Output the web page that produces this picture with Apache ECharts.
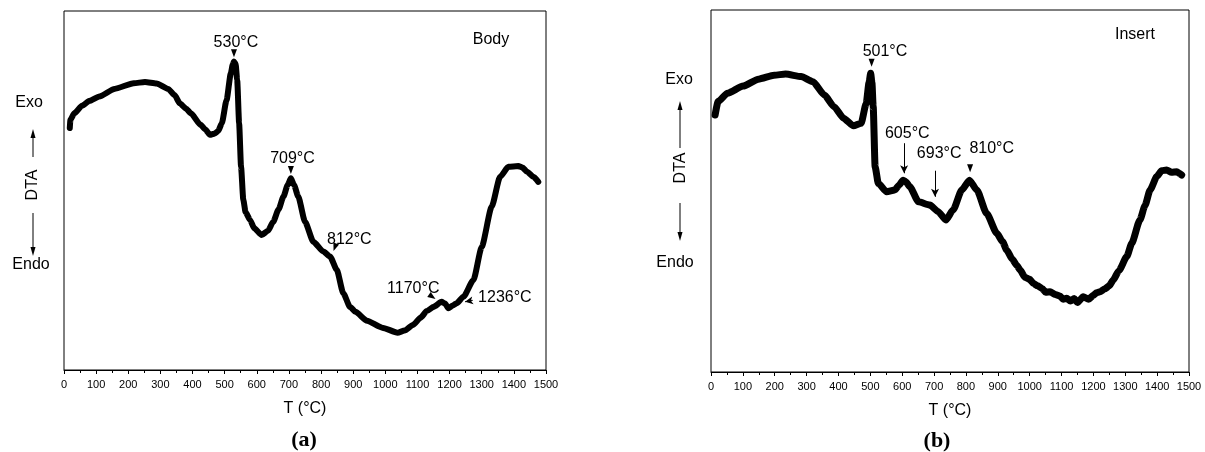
<!DOCTYPE html>
<html>
<head>
<meta charset="utf-8">
<script src="https://cdn.jsdelivr.net/npm/echarts@6/dist/echarts.min.js"></script>
<style>
html,body{margin:0;padding:0;background:#fff;}
#c{width:1205px;height:452px;}
</style>
</head>
<body>
<div id="c"></div>
<script>
// ---- Data ----
var xTicks = [0,100,200,300,400,500,600,700,800,900,1000,1100,1200,1300,1400,1500];

var bodyT = [18,20,32,56,80,110,157,217,252,288,324,345,360,380,395,425,440,454,470,480,491,506,519,525,529,534,539,545,551,558,565,579,592,615,635,651,668,683,696,706,716,729,750,776,807,828,849,869,890,907,943,990,1038,1060,1087,1110,1129,1150,1175,1186,1196,1210,1222,1243,1274,1300,1331,1357,1383,1414,1427,1440,1461,1476];
var bodyY = [67.4,69.7,71.5,73.6,75.0,76.2,78.3,79.9,80.2,79.8,78.3,76.5,74.3,72.8,71.5,68.3,67.0,65.5,65.9,66.6,68.7,75.2,82.6,85.0,85.9,85.3,80.8,68.7,56.6,47.4,44.0,41.8,39.5,37.6,38.8,41.3,44.8,48.3,51.5,53.4,51.5,48.3,41.3,35.7,33.0,31.6,27.9,21.4,17.6,16.2,13.7,11.8,10.4,11.0,12.6,14.6,16.4,17.6,19.0,18.5,17.2,18.0,18.6,20.4,25.0,34.3,45.5,53.8,56.6,56.8,56.4,55.3,53.8,52.4];

var insertT = [13,22,52,101,149,198,234,283,320,356,386,416,447,471,487,496,501,505,509,515,525,551,577,590,603,612,624,651,687,713,737,760,787,811,834,865,897,915,928,945,960,970,985,1000,1011,1025,1040,1050,1064,1080,1095,1105,1116,1128,1140,1150,1168,1185,1200,1210,1221,1235,1250,1262,1280,1305,1320,1346,1362,1378,1399,1414,1430,1445,1462,1470,1477];
var insertY = [71.0,74.7,77.0,79.0,80.9,82.0,82.3,81.6,80.2,76.5,73.3,70.1,68.0,68.7,74.2,80.0,82.5,80.0,73.3,56.7,52.1,49.8,50.3,51.6,53.0,52.5,51.2,47.0,46.1,44.3,42.0,44.8,50.3,53.0,50.3,43.8,38.3,36.0,33.7,31.2,29.4,28.2,26.2,25.6,24.5,23.8,23.0,22.0,22.2,21.4,21.0,20.1,20.4,19.6,20.3,19.2,20.8,20.1,21.2,21.9,22.2,22.9,23.8,25.4,28.0,31.9,35.5,42.0,46.0,50.3,54.0,55.6,55.8,55.2,55.3,54.8,54.4];

// annotation labels: [T, y, text]
var bodyLabels = [[535,91.2,'530°C'],[711,58.8,'709°C'],[888,36.4,'812°C'],[1087,22.7,'1170°C'],[1372,20.2,'1236°C']];
// triangle markers: [T, y, rotation]
var bodyTriangles = [[529,88.2,180],[706,55.7,180],[843,34.2,160],[1146,20.4,235]];
// arrow lines: [T1, y1, T2, y2]
var bodyArrows = [[1272,19.4,1248,19.0]];

var insertLabels = [[546,88.5,'501°C'],[616,65.9,'605°C'],[716,60.4,'693°C'],[881,61.8,'810°C']];
var insertTriangles = [[504,85.4,180],[813,56.3,180]];
var insertArrows = [[606,63.2,606,54.9],[703,55.6,703,48.4]];

// ---- Chart ----
var FONT = '"Liberation Sans", Arial, sans-serif';
function zip(a,b){ return a.map(function(v,i){ return [v,b[i]]; }); }

function xAxisDef(idx){
  return {
    gridIndex: idx, type:'value', min:xTicks[0], max:xTicks[xTicks.length-1], interval:xTicks[1]-xTicks[0],
    name:'T (°C)', nameLocation:'middle', nameGap:31,
    nameTextStyle:{fontFamily:FONT, fontSize:16, color:'#000'},
    axisLine:{show:true, lineStyle:{color:'#000', width:1}},
    axisTick:{show:true, length:4, lineStyle:{color:'#000'}},
    minorTick:{show:true, splitNumber:2, length:3, lineStyle:{color:'#000'}},
    axisLabel:{fontFamily:FONT, fontSize:11, color:'#000', margin:9,
      formatter:function(v){ return String(v); }},
    splitLine:{show:false}
  };
}
function yAxisDef(idx){
  return {
    gridIndex: idx, type:'value', min:0, max:100,
    axisLine:{show:false}, axisTick:{show:false},
    axisLabel:{show:false}, splitLine:{show:false}
  };
}
function curve(idx, T, Y, w){
  return {type:'line', xAxisIndex:idx, yAxisIndex:idx, data:zip(T,Y), showSymbol:false,
    smooth:0.2, smoothMonotone:'x', silent:true, z:3,
    lineStyle:{color:'#000', width:w, cap:'round', join:'round'}};
}
function labels(idx, L){
  return {type:'scatter', xAxisIndex:idx, yAxisIndex:idx, symbolSize:0, silent:true, z:5,
    itemStyle:{opacity:1, color:'#000'},
    data:L.map(function(d){ return {value:[d[0],d[1]], name:d[2]}; }),
    label:{show:true, position:'inside', formatter:function(p){return p.name;},
      fontFamily:FONT, fontSize:16, color:'#000', opacity:1, textBorderWidth:0}};
}
function triangles(idx, Tr){
  return {type:'scatter', xAxisIndex:idx, yAxisIndex:idx, symbol:'triangle', symbolSize:[6,8], silent:true, z:5,
    itemStyle:{color:'#000', opacity:1},
    data:Tr.map(function(d){ return {value:[d[0],d[1]], symbolRotate:d[2]}; })};
}
function arrows(idx, A){
  return {type:'line', xAxisIndex:idx, yAxisIndex:idx, data:[], silent:true,
    markLine:{silent:true, symbol:['none','arrow'], symbolSize:[6,8], label:{show:false},
      lineStyle:{color:'#000', width:1, type:'solid', opacity:1},
      data:A.map(function(a){ return [{coord:[a[0],a[1]]},{coord:[a[2],a[3]]}]; })}};
}

function arrowGraphics(x, upTip, upBase, downBase, downTip){
  return [
    {type:'line', shape:{x1:x,y1:upBase,x2:x,y2:upTip+4}, style:{stroke:'#000', lineWidth:1}},
    {type:'polygon', shape:{points:[[x,upTip],[x-2.5,upTip+9],[x+2.5,upTip+9]]}, style:{fill:'#000'}},
    {type:'line', shape:{x1:x,y1:downBase,x2:x,y2:downTip-4}, style:{stroke:'#000', lineWidth:1}},
    {type:'polygon', shape:{points:[[x,downTip],[x-2.5,downTip-9],[x+2.5,downTip-9]]}, style:{fill:'#000'}}
  ];
}
function txt(x,y,s,font){
  return {type:'text', style:{text:s, x:x, y:y, fill:'#000', font:font||('16px '+FONT), align:'center', verticalAlign:'middle'}};
}
function vtxt(x,y,s){
  return {type:'text', x:x, y:y, rotation:Math.PI/2, style:{text:s, x:0, y:0, fill:'#000', font:'16px '+FONT, align:'center', verticalAlign:'middle'}};
}

var SERIF = 'bold 22px "Liberation Serif", "Times New Roman", serif';
var graphics = [];
graphics.push(txt(29,103,'Exo'));
graphics.push(txt(31,265,'Endo'));
graphics.push(vtxt(33,185,'DTA'));
graphics = graphics.concat(arrowGraphics(33,129,157,213,256));
graphics.push(txt(491,40,'Body'));
graphics.push(txt(304,440,'(a)',SERIF));

graphics.push(txt(679,80,'Exo'));
graphics.push(txt(675,263,'Endo'));
graphics.push(vtxt(681,168,'DTA'));
graphics = graphics.concat(arrowGraphics(680,101,148,203,241));
graphics.push(txt(1135,35,'Insert'));
graphics.push(txt(937,441,'(b)',SERIF));

var chart = echarts.init(document.getElementById('c'), null, {renderer:'canvas'});
chart.setOption({
  animation:false,
  backgroundColor:'#fff',
  grid:[
    {left:64, top:11, width:482, height:359, show:true, borderColor:'#000', borderWidth:1, backgroundColor:'transparent'},
    {left:711, top:10, width:478, height:362, show:true, borderColor:'#000', borderWidth:1, backgroundColor:'transparent'}
  ],
  xAxis:[xAxisDef(0), xAxisDef(1)],
  yAxis:[yAxisDef(0), yAxisDef(1)],
  series:[
    curve(0, bodyT, bodyY, 6),
    curve(1, insertT, insertY, 7),
    labels(0, bodyLabels), labels(1, insertLabels),
    triangles(0, bodyTriangles), triangles(1, insertTriangles),
    arrows(0, bodyArrows), arrows(1, insertArrows)
  ],
  graphic:graphics
});
</script>
</body>
</html>
